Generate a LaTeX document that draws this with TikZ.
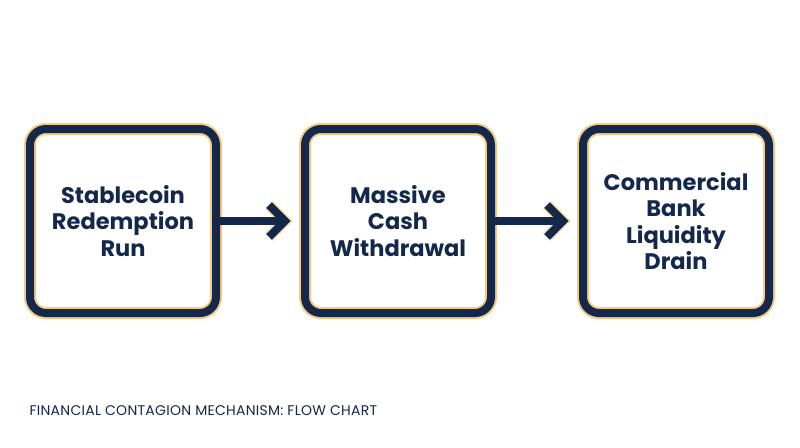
\documentclass[tikz,border=0pt]{standalone}
\usepackage{fontspec}
\setmainfont{Poppins}
\definecolor{navy}{HTML}{14284B}
\definecolor{glow}{HTML}{F5B54A}
\begin{document}
\begin{tikzpicture}[x=1pt,y=-1pt,
 box/.style={minimum width=186pt,minimum height=184pt,rounded corners=16pt,align=center,font=\fontsize{22.5}{26.5}\selectfont\bfseries,text=navy},
 arr/.style={line width=8pt,navy}]
\useasboundingbox[fill=white] (0,0) rectangle (800,447);
\foreach \n/\x/\t in {a/123/{Stablecoin\\Redemption\\Run},b/398/{Massive\\Cash\\Withdrawal},c/676/{Commercial\\Bank\\Liquidity\\Drain}}{
 \node[box,draw=glow,line width=12pt,opacity=0.7] (\n g) at (\x,221) {};
 \node[box,draw=navy,line width=8pt] (\n) at (\x,221) {\t};
}
\foreach \s/\e in {a/b,b/c}{
 \coordinate (t\s) at ([xshift=-16pt]\e.west);
 \draw[glow,line width=11pt,opacity=0.5,line join=miter] ([xshift=-16pt,yshift=-16pt]t\s) -- (t\s) -- ([xshift=-16pt,yshift=16pt]t\s);
 \draw[arr] (\s.east) -- ([xshift=-2pt]t\s);
 \draw[arr,line join=miter] ([xshift=-16pt,yshift=-16pt]t\s) -- (t\s) -- ([xshift=-16pt,yshift=16pt]t\s);
}
\node[anchor=west,text=navy,font=\fontsize{14}{16}\selectfont\addfontfeature{LetterSpace=2}] (title) at (26,411) {FINANCIAL CONTAGION MECHANISM: FLOW CHART};
\end{tikzpicture}
\end{document}
